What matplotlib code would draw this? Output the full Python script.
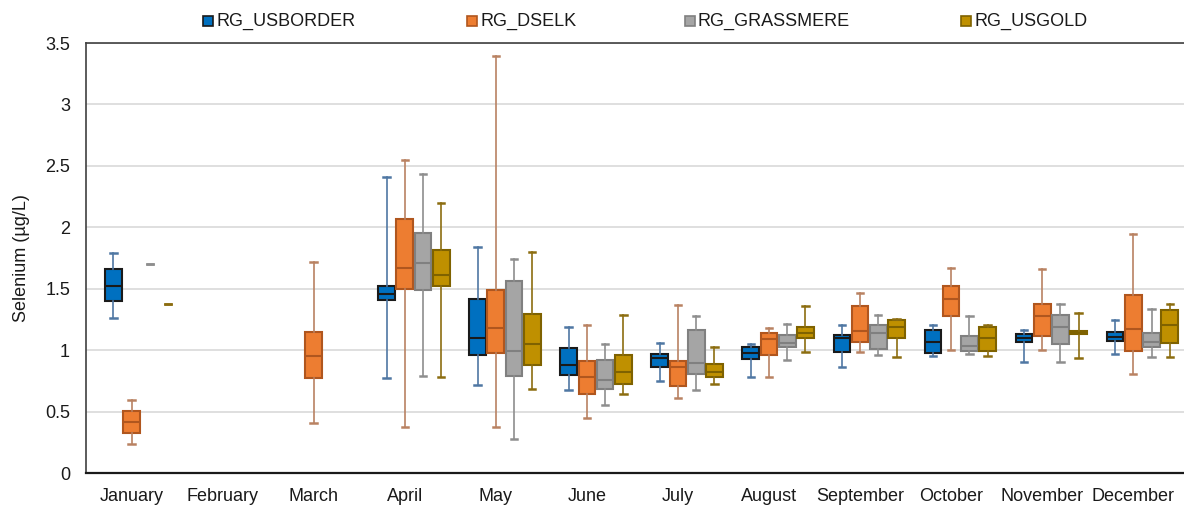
import numpy as np
import matplotlib.pyplot as plt
from matplotlib.patches import Rectangle

plt.rcParams['font.family'] = ['Liberation Sans', 'DejaVu Sans']

months = ['January', 'February', 'March', 'April', 'May', 'June',
          'July', 'August', 'September', 'October', 'November', 'December']
series = ['RG_USBORDER', 'RG_DSELK', 'RG_GRASSMERE', 'RG_USGOLD']

# (whisker low, q1, median, q3, whisker high) per month, None = no data
usborder = [(1.264, 1.398, 1.525, 1.658, 1.788), None, None,
            (0.773, 1.406, 1.457, 1.525, 2.409),
            (0.716, 0.958, 1.101, 1.419, 1.837),
            (0.676, 0.800, 0.879, 1.017, 1.191),
            (0.749, 0.863, 0.939, 0.971, 1.061),
            (0.779, 0.925, 0.977, 1.028, 1.053),
            (0.865, 0.982, 1.096, 1.123, 1.207),
            (0.952, 0.979, 1.066, 1.161, 1.205),
            (0.903, 1.064, 1.099, 1.131, 1.167),
            (0.971, 1.072, 1.110, 1.148, 1.248)]
dselk = [(0.234, 0.323, 0.415, 0.502, 0.594), None,
         (0.410, 0.773, 0.952, 1.145, 1.720),
         (0.377, 1.498, 1.671, 2.070, 2.548),
         (0.374, 0.974, 1.178, 1.487, 3.394),
         (0.450, 0.640, 0.784, 0.912, 1.207),
         (0.613, 0.711, 0.860, 0.914, 1.367),
         (0.779, 0.963, 1.094, 1.137, 1.183),
         (0.982, 1.064, 1.159, 1.359, 1.468),
         (1.004, 1.275, 1.419, 1.522, 1.666),
         (1.001, 1.112, 1.275, 1.373, 1.658),
         (0.808, 0.990, 1.169, 1.451, 1.948)]
grassmere = [(1.70, 1.70, 1.70, 1.70, 1.70), None, None,
             (0.792, 1.492, 1.709, 1.956, 2.431),
             (0.274, 0.792, 0.990, 1.566, 1.744),
             (0.551, 0.684, 0.760, 0.917, 1.047),
             (0.678, 0.808, 0.893, 1.164, 1.275),
             (0.917, 1.023, 1.056, 1.123, 1.210),
             (0.963, 1.007, 1.139, 1.202, 1.286),
             (0.966, 0.990, 1.031, 1.115, 1.275),
             (0.903, 1.053, 1.188, 1.283, 1.378),
             (0.941, 1.026, 1.066, 1.139, 1.338)]
usgold = [(1.376, 1.376, 1.376, 1.376, 1.376), None, None,
          (0.781, 1.525, 1.612, 1.813, 2.200),
          (0.686, 0.877, 1.048, 1.292, 1.796),
          (0.640, 0.722, 0.820, 0.963, 1.283),
          (0.722, 0.784, 0.825, 0.887, 1.026),
          (0.982, 1.096, 1.137, 1.191, 1.357),
          (0.947, 1.096, 1.191, 1.243, 1.256),
          (0.955, 0.990, 1.096, 1.188, 1.205),
          (0.939, 1.129, 1.142, 1.153, 1.305),
          (0.944, 1.061, 1.205, 1.327, 1.375)]

all_data = [usborder, dselk, grassmere, usgold]
fills = ['#0070C0', '#ED7D31', '#A5A5A5', '#BF9000']
edges = ['#1A1A1A', '#B0561E', '#808080', '#7F6200']
whisk = ['#4F77A3', '#B98262', '#8E8E8E', '#8C6D10']
offsets = [-0.2, 0.0, 0.2, 0.4]
box_w = 0.183

W, H = 1184, 505
fig = plt.figure(figsize=(W / 100, H / 100), dpi=100)
ax_l, ax_r, ax_t, ax_b = 86, 1190, 43, 473
ax = fig.add_axes([ax_l / W, 1 - ax_b / H, (ax_r - ax_l) / W, (ax_b - ax_t) / H])
cat_px = 91.07
ax.set_xlim(-0.5, -0.5 + (ax_r - ax_l) / cat_px)
ax.set_ylim(0, 3.5)

for data, fc, ec, wc, off in zip(all_data, fills, edges, whisk, offsets):
    boxes, box_pos, dashes, dash_pos = [], [], [], []
    for i, s in enumerate(data):
        if s is None:
            continue
        lo, q1, med, q3, hi = s
        st = dict(whislo=lo, q1=q1, med=med, q3=q3, whishi=hi, fliers=[])
        if lo == hi:
            dashes.append(st)
            dash_pos.append(i + off)
        else:
            boxes.append(st)
            box_pos.append(i + off)
    ax.bxp(boxes, positions=box_pos, widths=box_w, patch_artist=True,
           showfliers=False, capwidths=0.07,
           boxprops=dict(facecolor=fc, edgecolor=ec, linewidth=1.5),
           medianprops=dict(color=ec, linewidth=1.5),
           whiskerprops=dict(color=wc, linewidth=1.2),
           capprops=dict(color=wc, linewidth=1.8), manage_ticks=False)
    if dashes:
        ax.bxp(dashes, positions=dash_pos, widths=box_w, showbox=False,
               showfliers=False, capwidths=0.07,
               medianprops=dict(visible=False),
               whiskerprops=dict(color=wc, linewidth=1.2),
               capprops=dict(color=wc, linewidth=1.8), manage_ticks=False)

ax.set_xticks(np.arange(len(months)))
ax.set_xticklabels(months)
ax.set_yticks(np.arange(0, 3.51, 0.5))
ax.set_yticklabels(['0', '0.5', '1', '1.5', '2', '2.5', '3', '3.5'])
ax.tick_params(axis='both', length=0, labelsize=13, colors='#1A1A1A')
ax.tick_params(axis='y', pad=11.5)
ax.tick_params(axis='x', pad=10.5)
ax.grid(axis='y', color='#D9D9D9', linewidth=1.2)
ax.set_axisbelow(True)
for side in ['left', 'top', 'right']:
    ax.spines[side].set_color('#404040')
    ax.spines[side].set_linewidth(1.2)
ax.spines['bottom'].set_color('#1A1A1A')
ax.spines['bottom'].set_linewidth(1.6)

ax.set_ylabel('Selenium (µg/L)', fontsize=13, color='#1A1A1A')
ax.yaxis.set_label_coords((30 - ax_l) / (ax_r - ax_l), 0.5)

# legend across the top
leg_x = [208, 472, 690, 966]
for name, fc, ec, x in zip(series, fills, edges, leg_x):
    fig.patches.append(Rectangle(((x - 5) / W, 1 - 26 / H), 10 / W, 10 / H,
                                 facecolor=fc, edgecolor=ec, linewidth=1.2,
                                 transform=fig.transFigure))
    fig.text((x + 8) / W, 1 - 21 / H, name, fontsize=13, va='center',
             ha='left', color='#1A1A1A')

fig.savefig('out.png', dpi=100)
